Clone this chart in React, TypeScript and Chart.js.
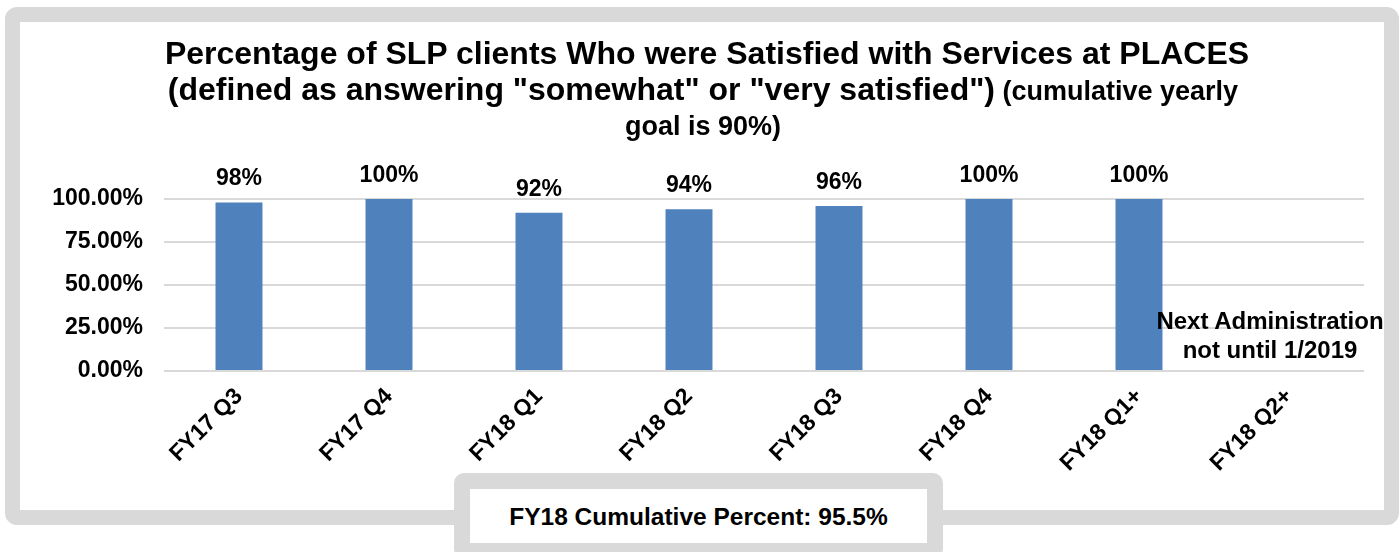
import React, { useEffect, useRef } from "react";
import { Chart, registerables } from "chart.js";

Chart.register(...registerables);

const categories = ["FY17 Q3", "FY17 Q4", "FY18 Q1", "FY18 Q2", "FY18 Q3", "FY18 Q4", "FY18 Q1+", "FY18 Q2+"];
const satisfiedPct: (number | null)[] = [98, 100, 92, 94, 96, 100, 100, null];
const valueLabels = ["98%", "100%", "92%", "94%", "96%", "100%", "100%", ""];
const yMin = 0;
const yMax = 100;
const yStep = 25;

const titleLine1 = "Percentage of SLP clients Who were Satisfied with Services at PLACES";
const titleLine2Big = "(defined as answering \"somewhat\" or \"very satisfied\")";
const titleLine2Small = " (cumulative yearly";
const titleLine3 = "goal is 90%)";
const noteLines = ["Next Administration", "not until 1/2019"];
const footerText = "FY18 Cumulative Percent: 95.5%";

const FONT = "'Liberation Sans', Arial, Helvetica, sans-serif";

const valueLabelPlugin = {
  id: "valueLabels",
  afterDatasetsDraw(chart: any) {
    const ctx = chart.ctx;
    const meta = chart.getDatasetMeta(0);
    ctx.save();
    ctx.font = `bold 23px ${FONT}`;
    ctx.fillStyle = "#000000";
    ctx.textAlign = "center";
    ctx.textBaseline = "alphabetic";
    meta.data.forEach((el: any, i: number) => {
      const v = satisfiedPct[i];
      if (v === null || v === undefined) return;
      ctx.fillText(valueLabels[i], el.x, el.y - 17);
    });
    ctx.restore();
  },
};

export default function App() {
  const canvasRef = useRef<HTMLCanvasElement | null>(null);

  useEffect(() => {
    if (!canvasRef.current) return;
    const chart = new Chart(canvasRef.current, {
      type: "bar",
      data: {
        labels: categories,
        datasets: [
          {
            data: satisfiedPct as any,
            backgroundColor: "#4F81BD",
            borderWidth: 0,
            barPercentage: 0.313,
            categoryPercentage: 1,
          },
        ],
      },
      options: {
        responsive: false,
        animation: false,
        maintainAspectRatio: false,
        layout: { padding: { top: 199, right: 36, left: 0, bottom: 0 } },
        plugins: {
          legend: { display: false },
          title: { display: false },
          tooltip: { enabled: false },
        },
        scales: {
          x: {
            grid: { display: false, drawTicks: false },
            border: { display: false },
            ticks: {
              autoSkip: false,
              maxRotation: 45,
              minRotation: 45,
              padding: 12,
              color: "#000000",
              font: { family: FONT, size: 23, weight: "bold" },
            },
            afterFit(scale: any) {
              scale.height = 181;
            },
          },
          y: {
            min: yMin,
            max: yMax,
            grid: { color: "#D9D9D9", lineWidth: 2, drawTicks: false },
            border: { display: false },
            ticks: {
              stepSize: yStep,
              padding: 21,
              color: "#000000",
              font: { family: FONT, size: 23, weight: "bold" },
              callback: (v: any) => Number(v).toFixed(2) + "%",
            },
            afterFit(scale: any) {
              scale.width = 164;
            },
          },
        },
      },
      plugins: [valueLabelPlugin],
    });
    return () => chart.destroy();
  }, []);

  const textBase: React.CSSProperties = {
    position: "absolute",
    fontFamily: FONT,
    fontWeight: "bold",
    color: "#000",
    whiteSpace: "nowrap",
    textAlign: "center",
  };

  return (
    <div style={{ position: "fixed", left: 0, top: 0, width: 1400, height: 552, overflow: "hidden", background: "#fff" }}>
      <div
        style={{
          position: "absolute",
          left: 5,
          top: 7,
          width: 1394,
          height: 518,
          boxSizing: "border-box",
          border: "15px solid #D9D9D9",
          borderRadius: 12,
          background: "#fff",
        }}
      />
      <canvas ref={canvasRef} width={1400} height={552} style={{ position: "absolute", left: 0, top: 0, width: 1400, height: 552 }} />
      <div style={{ ...textBase, left: 0, width: 1414, top: 53 - 20, height: 40, lineHeight: "40px", fontSize: 32 }}>{titleLine1}</div>
      <div style={{ ...textBase, left: 0, width: 1406, top: 89 - 20, height: 40, lineHeight: "40px", fontSize: 32 }}>
        {titleLine2Big}
        <span style={{ fontSize: 27 }}>{titleLine2Small}</span>
      </div>
      <div style={{ ...textBase, left: 0, width: 1406, top: 126 - 17, height: 34, lineHeight: "34px", fontSize: 27 }}>{titleLine3}</div>
      <div style={{ ...textBase, left: 1130, width: 280, top: 320 - 14.5, lineHeight: "29px", fontSize: 24 }}>
        {noteLines[0]}
        <br />
        {noteLines[1]}
      </div>
      <div
        style={{
          position: "absolute",
          left: 454,
          top: 473,
          width: 489,
          height: 86,
          boxSizing: "border-box",
          border: "16px solid #D9D9D9",
          borderRadius: 10,
          background: "#fff",
        }}
      />
      <div style={{ ...textBase, left: 469, width: 459, top: 517 - 16, height: 32, lineHeight: "32px", fontSize: 24.5 }}>{footerText}</div>
    </div>
  );
}
